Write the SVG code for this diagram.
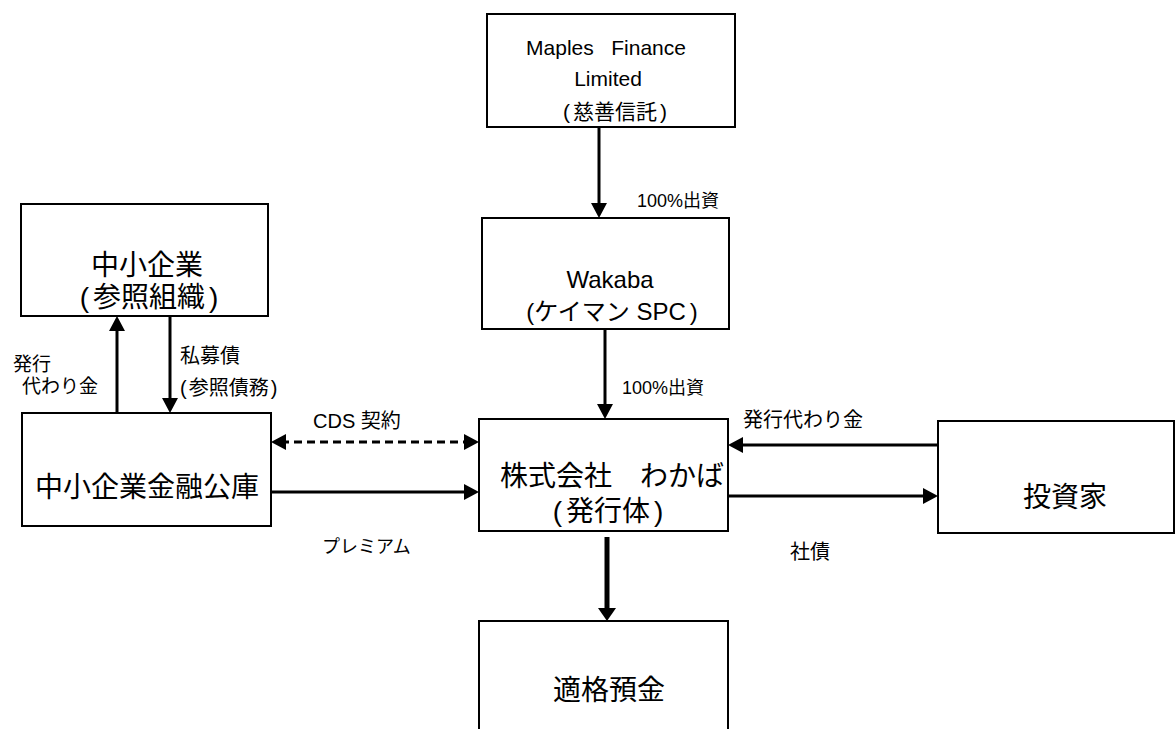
<svg xmlns="http://www.w3.org/2000/svg" width="1175" height="729" viewBox="0 0 1175 729">
<style>
.box{fill:#fff;stroke:#000;stroke-width:2}
.t{font-family:"Liberation Sans","Noto Sans CJK JP",sans-serif;fill:#000}
.big{font-size:28px;text-anchor:middle}
.lbl{font-size:20px}
.ln{stroke:#000;stroke-width:3;fill:none}
.thick{stroke-width:5}
</style>
<defs>
<marker id="ah" markerUnits="userSpaceOnUse" markerWidth="16" markerHeight="16" viewBox="0 0 15 16" refX="5" refY="8" orient="auto">
<path d="M0,0 L15,8 L0,16 z" fill="#000"/>
</marker>
<marker id="ahs" markerUnits="userSpaceOnUse" markerWidth="16" markerHeight="16" viewBox="0 0 15 16" refX="5" refY="8" orient="auto-start-reverse">
<path d="M0,0 L15,8 L0,16 z" fill="#000"/>
</marker>
<marker id="ahb" markerUnits="userSpaceOnUse" markerWidth="13" markerHeight="18" viewBox="0 0 13 18" refX="4" refY="9" orient="auto">
<path d="M0,0 L13,9 L0,18 z" fill="#000"/>
</marker>
</defs>

<g id="maples">
<rect class="box" x="487" y="14" width="248" height="113"/>
<text class="t" x="606" y="55" font-size="21" text-anchor="middle">Maples&#160;&#160;&#160;Finance</text>
<text class="t" x="608" y="86" font-size="21" text-anchor="middle">Limited</text>
<text class="t" x="615" y="119" font-size="21" text-anchor="middle">(<tspan dx="3">慈善信託</tspan><tspan dx="3">)</tspan></text>
</g>

<g id="wakaba">
<rect class="box" x="482" y="218" width="247" height="111"/>
<text class="t" x="610" y="288" font-size="24" text-anchor="middle">Wakaba</text>
<text class="t" x="612" y="320" font-size="24" text-anchor="middle">(ケイマン SPC<tspan dx="4">)</tspan></text>
</g>

<g id="chusho">
<rect class="box" x="21" y="204" width="247" height="112"/>
<text class="t big" x="147" y="275">中小企業</text>
<text class="t big" x="149" y="307">(<tspan dx="4">参照組織</tspan><tspan dx="4">)</tspan></text>
</g>

<g id="kinko">
<rect class="box" x="22" y="413" width="249" height="113"/>
<text class="t big" x="147" y="497">中小企業金融公庫</text>
</g>

<g id="issuer">
<rect class="box" x="479" y="419" width="249" height="112"/>
<text class="t big" x="612" y="486">株式会社　わかば</text>
<text class="t big" x="608" y="521">(<tspan dx="4">発行体</tspan><tspan dx="4">)</tspan></text>
</g>

<g id="investor">
<rect class="box" x="938" y="421" width="236" height="112"/>
<text class="t big" x="1065" y="507">投資家</text>
</g>

<g id="deposit">
<rect class="box" x="479" y="621" width="249" height="130"/>
<text class="t big" x="609" y="700">適格預金</text>
</g>

<g id="connectors">
<line class="ln" x1="599" y1="127" x2="599" y2="208" marker-end="url(#ah)"/>
<line class="ln" x1="605" y1="329" x2="605" y2="409" marker-end="url(#ah)"/>
<line class="ln thick" x1="607" y1="537" x2="607" y2="612" marker-end="url(#ahb)"/>
<line class="ln" x1="281" y1="442" x2="469" y2="442" stroke-dasharray="8,5" marker-start="url(#ahs)" marker-end="url(#ahs)"/>
<line class="ln" x1="271" y1="492" x2="469" y2="492" marker-end="url(#ah)"/>
<line class="ln" x1="938" y1="445" x2="738" y2="445" marker-end="url(#ah)"/>
<line class="ln" x1="728" y1="496" x2="928" y2="496" marker-end="url(#ah)"/>
<line class="ln" x1="117" y1="413" x2="117" y2="326" marker-end="url(#ah)"/>
<line class="ln" x1="170" y1="316" x2="170" y2="403" marker-end="url(#ah)"/>
</g>

<g id="labels">
<text class="t" x="637" y="207" font-size="18">100%出資</text>
<text class="t" x="622" y="394" font-size="18">100%出資</text>
<text class="t lbl" x="313" y="428">CDS 契約</text>
<text class="t" x="322" y="553" font-size="18">プレミアム</text>
<text class="t lbl" x="743" y="427">発行代わり金</text>
<text class="t lbl" x="790" y="559">社債</text>
<text class="t" x="13" y="371" font-size="19">発行</text>
<text class="t" x="22" y="393" font-size="19">代わり金</text>
<text class="t" x="180" y="363" font-size="20">私募債</text>
<text class="t" x="180" y="395" font-size="20">(<tspan dx="2">参照債務</tspan><tspan dx="2">)</tspan></text>
</g>
</svg>
